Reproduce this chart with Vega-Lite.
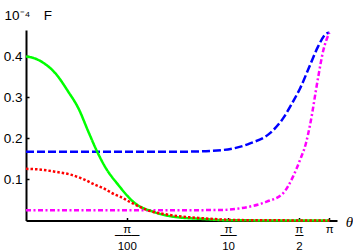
{
  "$schema": "https://vega.github.io/schema/vega-lite/v6.json",
  "autosize": "none",
  "width": 311,
  "height": 190.5,
  "padding": {"left": 26, "top": 30, "right": 16, "bottom": 31.5},
  "background": "white",
  "config": {
    "view": {"stroke": null},
    "axis": {
      "grid": false,
      "domainColor": "black",
      "domainWidth": 2,
      "tickColor": "black",
      "tickWidth": 1.5,
      "tickSize": -3,
      "labelFont": "Liberation Sans",
      "labelColor": "black",
      "titleColor": "black"
    }
  },
  "data": {
    "values": [
      {"s": "b", "t": 0.00318, "v": 0.1675},
      {"s": "b", "t": 0.01, "v": 0.1675},
      {"s": "b", "t": 0.05, "v": 0.1675},
      {"s": "b", "t": 0.1324, "v": 0.168},
      {"s": "b", "t": 0.2803, "v": 0.172},
      {"s": "b", "t": 0.518, "v": 0.188},
      {"s": "b", "t": 0.816, "v": 0.213},
      {"s": "b", "t": 1.097, "v": 0.249},
      {"s": "b", "t": 1.376, "v": 0.29},
      {"s": "b", "t": 1.614, "v": 0.322},
      {"s": "b", "t": 2.026, "v": 0.379},
      {"s": "b", "t": 2.43, "v": 0.424},
      {"s": "b", "t": 2.961, "v": 0.4566},
      {"s": "b", "t": 3.1416, "v": 0.458},

      {"s": "m", "t": 0.00318, "v": 0.025},
      {"s": "m", "t": 0.05, "v": 0.025},
      {"s": "m", "t": 0.262, "v": 0.0255},
      {"s": "m", "t": 0.412, "v": 0.0298},
      {"s": "m", "t": 0.757, "v": 0.0459},
      {"s": "m", "t": 1.097, "v": 0.0663},
      {"s": "m", "t": 1.376, "v": 0.107},
      {"s": "m", "t": 1.614, "v": 0.1476},
      {"s": "m", "t": 1.849, "v": 0.189},
      {"s": "m", "t": 2.026, "v": 0.233},
      {"s": "m", "t": 2.43, "v": 0.3476},
      {"s": "m", "t": 2.722, "v": 0.412},
      {"s": "m", "t": 3.1416, "v": 0.458},

      {"s": "g", "t": 0.00318, "v": 0.4},
      {"s": "g", "t": 0.00391, "v": 0.395},
      {"s": "g", "t": 0.0049, "v": 0.3817},
      {"s": "g", "t": 0.00615, "v": 0.36},
      {"s": "g", "t": 0.00832, "v": 0.314},
      {"s": "g", "t": 0.01045, "v": 0.274},
      {"s": "g", "t": 0.01313, "v": 0.2166},
      {"s": "g", "t": 0.01589, "v": 0.17},
      {"s": "g", "t": 0.01918, "v": 0.131},
      {"s": "g", "t": 0.02595, "v": 0.0866},
      {"s": "g", "t": 0.0379, "v": 0.042},
      {"s": "g", "t": 0.0571, "v": 0.0215},
      {"s": "g", "t": 0.09, "v": 0.0093},
      {"s": "g", "t": 0.178, "v": 0.0037},
      {"s": "g", "t": 0.329, "v": 0.0005},
      {"s": "g", "t": 3.1416, "v": 0},

      {"s": "r", "t": 0.00318, "v": 0.126},
      {"s": "r", "t": 0.0045, "v": 0.124},
      {"s": "r", "t": 0.00615, "v": 0.119},
      {"s": "r", "t": 0.0087, "v": 0.112},
      {"s": "r", "t": 0.0117, "v": 0.101},
      {"s": "r", "t": 0.0153, "v": 0.087},
      {"s": "r", "t": 0.0183, "v": 0.079},
      {"s": "r", "t": 0.0241, "v": 0.063},
      {"s": "r", "t": 0.027, "v": 0.058},
      {"s": "r", "t": 0.0352, "v": 0.043},
      {"s": "r", "t": 0.0498, "v": 0.0256},
      {"s": "r", "t": 0.084, "v": 0.0134},
      {"s": "r", "t": 0.178, "v": 0.0054},
      {"s": "r", "t": 0.412, "v": 0.001},
      {"s": "r", "t": 3.1416, "v": 0}
    ]
  },
  "mark": {"type": "line", "interpolate": "monotone", "strokeWidth": 2.5},
  "encoding": {
    "x": {
      "field": "t",
      "type": "quantitative",
      "scale": {"type": "log", "domain": [0.00318, 3.74], "nice": false},
      "axis": {
        "values": [0.031415927, 0.31415927, 1.5707963, 3.1415927],
        "labelExpr": "datum.value < 0.05 ? ['π', '───', '⠀', '100'] : datum.value < 0.5 ? ['π', '──', '⠀', '10'] : datum.value < 2 ? ['π', '─', '⠀', '2'] : 'π'",
        "labelFontSize": 11.5,
        "labelLineHeight": 5.8,
        "labelBaseline": "top",
        "labelPadding": 6,
        "labelOverlap": false,
        "labelBound": false,
        "labelFlush": false,
        "title": "θ",
        "titleFont": "Liberation Serif",
        "titleFontStyle": "italic",
        "titleFontWeight": "normal",
        "titleFontSize": 15,
        "titleAlign": "center",
        "titleBaseline": "middle",
        "titleX": 323,
        "titleY": 1.2
      }
    },
    "y": {
      "field": "v",
      "type": "quantitative",
      "scale": {"domain": [0, 0.4646], "nice": false, "zero": true},
      "axis": {
        "values": [0.1, 0.2, 0.3, 0.4],
        "format": ".1f",
        "labelFontSize": 13.5,
        "labelPadding": 7,
        "labelBaseline": "middle",
        "title": "10⁻⁴\u2003F",
        "titleFont": "Liberation Sans",
        "titleFontWeight": "normal",
        "titleFontSize": 13.5,
        "titleAngle": 0,
        "titleAlign": "left",
        "titleBaseline": "alphabetic",
        "titleX": -22,
        "titleY": -10.7
      }
    },
    "color": {
      "field": "s",
      "type": "nominal",
      "scale": {"domain": ["b", "m", "g", "r"], "range": ["#0000ff", "#ff00ff", "#00ff00", "#ff0000"]},
      "legend": null
    },
    "strokeDash": {
      "field": "s",
      "type": "nominal",
      "scale": {"domain": ["b", "m", "g", "r"], "range": [[8, 3], [5, 2.5, 2, 2.5], [1, 0], [2.5, 2]]},
      "legend": null
    },
    "order": {"field": "t", "type": "quantitative"}
  }
}
